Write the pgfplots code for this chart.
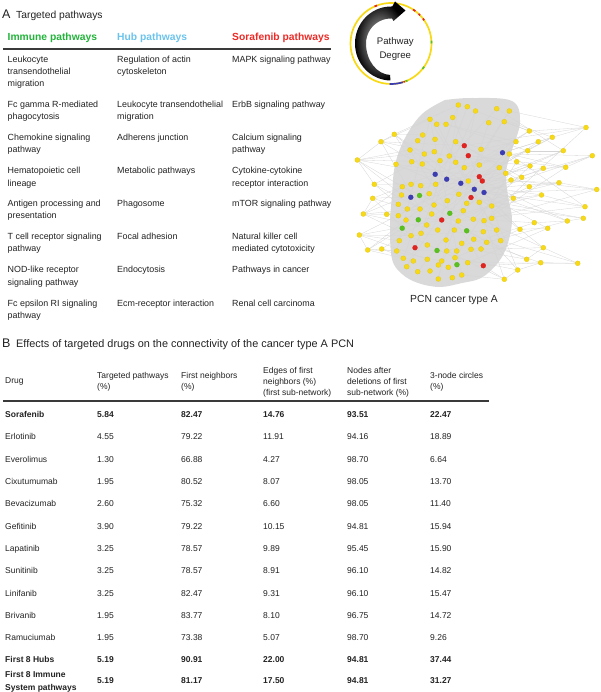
\documentclass[border=0pt]{standalone}
\usepackage{pgfplots}
\pgfplotsset{compat=1.18}
\usepackage{fontspec}
\setmainfont{Liberation Sans}

\definecolor{txt}{HTML}{222222}
\definecolor{immune}{HTML}{22B33A}
\definecolor{hub}{HTML}{6BC3EC}
\definecolor{sora}{HTML}{EC2A26}
\definecolor{nodeY}{HTML}{F7D916}
\definecolor{nodeR}{HTML}{E2231F}
\definecolor{nodeB}{HTML}{3C3CB4}
\definecolor{nodeG}{HTML}{58C11C}
\definecolor{core}{HTML}{D9D9D9}
\definecolor{rulec}{HTML}{3A3A3A}

% network nodes, in pixel coordinates of the figure
\pgfplotstableread{
x y
458.3 105
467.3 106.7
475.5 111
496.7 108.7
509.3 111
430 119.3
452.7 117.5
436.7 124.3
446 124.3
586 127.5
488.7 122.7
504.3 121.7
394.3 134.3
381 141.7
422.7 135
417.7 140.7
435 139.3
455.7 141.7
529.3 131
516 141.7
552.3 137.3
538.3 141.7
410 150
424.3 154
434.3 151.7
449.3 156
481 149.3
509.3 154
527.7 150.7
563.3 150.7
592.3 155.7
357.3 160
396 164.3
411.7 161.7
422.3 164
440 160.7
455.7 162.3
464.3 167.7
479.3 165
499.3 167.7
516.7 161.7
530 166
543.3 168.3
565.7 167.3
505.7 173.3
521.7 177.3
511 180
559 182.7
374.3 184.3
402.3 186.7
411 184.3
420.7 185.7
435.7 184.3
468.3 181
529.3 186.7
596.7 189.5
401.5 195
429.2 193.7
458.8 194.3
541.5 195
372.7 198.3
398.3 204.3
434 205
447.3 200.7
466.7 203.3
479.3 202.3
491.7 206
513.3 198.3
585 206.7
363.3 214
386.7 214.3
398.3 215.7
407.3 209
420 209
431.7 214
463.3 210.7
406 220
458.3 221
473.3 219.2
484 220.7
491.7 218.3
534.3 222.7
567.3 221
583.3 218.3
426.7 225
437.7 230
454.3 230
520 229.3
547.7 228.3
483.3 231.7
496.7 230
359.3 235
411 235.7
421 233.3
399.3 240.7
427.3 245
446 240
461.7 243.3
473.7 239.2
486.7 242.3
500.7 240.7
367.7 250
381.7 249
396.7 251
446.7 251
456.7 251
471 249.3
481 249
543.3 247.7
403.3 258.3
413.3 261
427.3 259.3
441.7 261
455 257.7
467.7 262.7
526.7 259.3
540.7 262.7
577.7 263.3
406.7 266.7
417.7 271.7
430 271
438.3 265
448.3 267.3
461.7 275
438.3 279
452.3 277.7
517.7 270
504.3 279.3
}\yellownodes

\pgfplotstableread{
x y
464.3 145.7
468.3 155.7
479.3 176.7
482.3 181
471 197.5
441.7 220
415 247.7
483.3 265.7
}\rednodes

\pgfplotstableread{
x y
502.5 152.7
435.2 174.3
446.7 179.2
460.8 183.3
474.3 189.3
484 192.5
410.8 197.3
}\bluenodes

\pgfplotstableread{
x y
419.5 195.5
449.8 213.3
418.3 219.8
402.2 228.2
466.7 230.8
437 250.5
456.9 264.7
}\greennodes

\pgfplotstableread{
x1 y1 x2 y2
357.3 160 435 174
357.3 160 420 209
357.3 160 410 150
357.3 160 402.3 186.7
357.3 160 434.3 151.7
357.3 160 455.7 162.3
357.3 160 381 141.7
357.3 160 374.3 184.3
381 141.7 430 119.3
381 141.7 435 174
381 141.7 464.3 145.7
381 141.7 420 209
381 141.7 394.3 134.3
381 141.7 449.3 156
394.3 134.3 458.3 105
394.3 134.3 446.7 179
394.3 134.3 474 189.3
394.3 134.3 422.7 135
394.3 134.3 411.7 161.7
374.3 184.3 441.7 220
374.3 184.3 460.7 183.3
374.3 184.3 434.3 151.7
374.3 184.3 398.3 204.3
372.7 198.3 458.3 194.3
372.7 198.3 411 235.7
372.7 198.3 435 174
372.7 198.3 363.3 214
372.7 198.3 407.3 209
363.3 214 420 209
363.3 214 446.7 179
363.3 214 455 257.7
363.3 214 402.3 186.7
363.3 214 386.7 214.3
363.3 214 437.7 230
359.3 235 441.7 220
359.3 235 411 235.7
359.3 235 460.7 183.3
359.3 235 427.3 259.3
359.3 235 399.3 240.7
359.3 235 367.7 250
367.7 250 446.7 251
367.7 250 420 209
367.7 250 402.3 228.3
367.7 250 403.3 258.3
367.7 250 381.7 249
381.7 249 474 189.3
381.7 249 441.7 261
381.7 249 413.3 261
386.7 214.3 441.7 220
386.7 214.3 420 209
586 127.5 509.3 111
586 127.5 484 220.7
586 127.5 464.3 145.7
586 127.5 552.3 137.3
586 127.5 529.3 131
529.3 131 446.7 179
529.3 131 475.5 111
529.3 131 479.3 165
529.3 131 504.3 121.7
552.3 137.3 479.3 176.7
552.3 137.3 460.7 183.3
552.3 137.3 502.7 152.7
552.3 137.3 538.3 141.7
552.3 137.3 509.3 121.7
538.3 141.7 458.3 194.3
538.3 141.7 435 174
516 141.7 446 124.3
516 141.7 441.7 220
516 141.7 481 149.3
563.3 150.7 482.3 181
563.3 150.7 474 189.3
563.3 150.7 496.7 108.7
563.3 150.7 527.7 150.7
592.3 155.7 509.3 154
592.3 155.7 484 192.7
592.3 155.7 458.3 194.3
592.3 155.7 565.7 167.3
527.7 150.7 464.3 167.7
527.7 150.7 430 119.3
565.7 167.3 468.3 155.7
565.7 167.3 484 220.7
565.7 167.3 455.7 141.7
565.7 167.3 543.3 168.3
543.3 168.3 471 197.5
543.3 168.3 446.7 179
530 166 449.3 156
530 166 473.3 219.2
530 166 505.7 173.3
559 182.7 474 189.3
559 182.7 479.3 202.3
559 182.7 446.7 179
559 182.7 529.3 186.7
596.7 189.5 484 192.7
596.7 189.5 479.3 176.7
596.7 189.5 491.7 218.3
596.7 189.5 559 182.7
541.5 195 460.7 183.3
541.5 195 441.7 220
541.5 195 513.3 198.3
529.3 186.7 458.3 221
529.3 186.7 464.3 145.7
513.3 198.3 441.7 220
513.3 198.3 435 174
585 206.7 484 192.7
585 206.7 458.3 221
585 206.7 509.3 154
585 206.7 541.5 195
583.3 218.3 491.7 206
583.3 218.3 471 197.5
583.3 218.3 567.3 221
567.3 221 482.3 181
567.3 221 486.7 242.3
567.3 221 460.7 183.3
567.3 221 534.3 222.7
534.3 222.7 473.3 219.2
534.3 222.7 446.7 251
547.7 228.3 474 189.3
547.7 228.3 467.7 262.7
547.7 228.3 520 229.3
520 229.3 484 192.7
520 229.3 455 257.7
543.3 247.7 481 249
543.3 247.7 460.7 183.3
543.3 247.7 526.7 259.3
526.7 259.3 471 249.3
526.7 259.3 441.7 220
540.7 262.7 483.3 265.7
540.7 262.7 474 240
540.7 262.7 517.7 270
577.7 263.3 484 220.7
577.7 263.3 500.7 240.7
577.7 263.3 467.7 262.7
577.7 263.3 540.7 262.7
517.7 270 455 257.7
517.7 270 483.3 231.7
517.7 270 504.3 279.3
504.3 279.3 461.7 275
504.3 279.3 446.7 251
504.3 279.3 474 189.3
504.3 279.3 483.3 265.7
521.7 177.3 464.3 145.7
511 180 441.7 220
516.7 161.7 455 257.7
499.3 167.7 420 209
486.7 242.3 402.3 186.7
500.7 240.7 430 119.3
491.7 206 396 164.3
496.7 230 411 235.7
458.3 105 441.7 220
467.3 106.7 415 247.7
496.7 108.7 435 174
509.3 111 458.3 194.3
430 119.3 461.7 275
410 150 483.3 265.7
396 164.3 479.3 176.7
398.3 215.7 502.7 152.7
406.7 266.7 475.5 111
437.7 279 488.7 122.7
402.3 186.7 496.7 230
417.7 271.7 509.3 154
430 119.3 396.7 251
458.3 105 403.3 258.3
475.5 111 438.3 279
509.3 111 406.7 266.7
436.7 124.3 500.7 240.7
452.7 117.5 517.7 270
}\edges

\tikzset{
  ta/.style={font=\fontsize{8.9}{10}\selectfont, text=txt, inner sep=0pt, anchor=base west},
  th/.style={font=\fontsize{10.3}{11}\selectfont\bfseries, inner sep=0pt, anchor=base west},
  tb/.style={font=\fontsize{8.5}{10}\selectfont, text=txt, inner sep=0pt, anchor=base west},
  tt/.style={font=\fontsize{10.3}{12}\selectfont, text=txt, inner sep=0pt, anchor=base west},
  tl/.style={font=\fontsize{12.5}{14}\selectfont, text=txt, inner sep=0pt, anchor=base west},
}
\newcommand{\A}[3]{\node[ta] at (axis cs:#1,#2) {#3};}
\newcommand{\Bt}[3]{\node[tb] at (axis cs:#1,#2) {#3};}
\newcommand{\brow}[7]{%
  \node[tb] at (axis cs:5,#1) {#2};
  \node[tb] at (axis cs:97,#1) {#3};
  \node[tb] at (axis cs:181,#1) {#4};
  \node[tb] at (axis cs:263,#1) {#5};
  \node[tb] at (axis cs:347,#1) {#6};
  \node[tb] at (axis cs:430,#1) {#7};}
\newcommand{\seg}[3]{\draw[#1, line width=1.7pt] (0,0) ++(#2:40.5pt) arc[start angle=#2, end angle=#3, radius=40.5pt];}

\begin{document}
\begin{tikzpicture}
\begin{axis}[
  x=1pt, y=1pt,
  xmin=0, xmax=600, ymin=0, ymax=692,
  y dir=reverse,
  hide axis, clip=false,
  ]
\path (axis cs:0,0) rectangle (axis cs:600,692);

% ---- panel A, left table
\node[tl] at (axis cs:2,18.5) {A};
\node[tt] at (axis cs:16,18.3) {Targeted pathways};
\node[th, text=immune] at (axis cs:7.5,40.5) {Immune pathways};
\node[th, text=hub] at (axis cs:117,40.5) {Hub pathways};
\node[th, text=sora] at (axis cs:232,40.5) {Sorafenib pathways};
\draw[rulec, line width=2pt] (axis cs:3,49) -- (axis cs:331,49);

\A{7.5}{62.3}{Leukocyte}
\A{7.5}{74.6}{transendothelial}
\A{7.5}{86.9}{migration}
\A{7.5}{107.6}{Fc gamma R-mediated}
\A{7.5}{119.9}{phagocytosis}
\A{7.5}{140.6}{Chemokine signaling}
\A{7.5}{152.9}{pathway}
\A{7.5}{174}{Hematopoietic cell}
\A{7.5}{186.3}{lineage}
\A{7.5}{206.7}{Antigen processing and}
\A{7.5}{219}{presentation}
\A{7.5}{239.2}{T cell receptor signaling}
\A{7.5}{251.5}{pathway}
\A{7.5}{272.7}{NOD-like receptor}
\A{7.5}{285}{signaling pathway}
\A{7.5}{306}{Fc epsilon RI signaling}
\A{7.5}{318.3}{pathway}

\A{117}{62.3}{Regulation of actin}
\A{117}{74.6}{cytoskeleton}
\A{117}{107.6}{Leukocyte transendothelial}
\A{117}{119.9}{migration}
\A{117}{140.6}{Adherens junction}
\A{117}{174}{Metabolic pathways}
\A{117}{206.7}{Phagosome}
\A{117}{239.2}{Focal adhesion}
\A{117}{272.7}{Endocytosis}
\A{117}{306}{Ecm-receptor interaction}

\A{232}{62.3}{MAPK signaling pathway}
\A{232}{107.6}{ErbB signaling pathway}
\A{232}{140.6}{Calcium signaling}
\A{232}{152.9}{pathway}
\A{232}{174}{Cytokine-cytokine}
\A{232}{186.3}{receptor interaction}
\A{232}{206.7}{mTOR signaling pathway}
\A{232}{239.2}{Natural killer cell}
\A{232}{251.5}{mediated cytotoxicity}
\A{232}{272.7}{Pathways in cancer}
\A{232}{306}{Renal cell carcinoma}

% ---- panel A, network
\addplot[fill=core, draw=none, smooth, tension=0.6] coordinates {
  (445,100) (472,98) (512,101) (520,122) (512,150) (506,172) (508,196)
  (512,220) (507,246) (497,264) (481,278) (462,283) (440,287) (418,283)
  (402,274) (392,259) (390,225) (392,195) (395,165) (405,138) (422,114)
  (445,100)
} -- cycle;
\addplot[black!17, line width=0.3pt, no markers,
  quiver={u=\thisrow{x2}-\thisrow{x1}, v=\thisrow{y2}-\thisrow{y1}}]
  table[x=x1, y=y1] {\edges};
\addplot[only marks, mark=*, mark size=2.5pt, mark options={fill=nodeY, draw=nodeY!90!black, line width=0.2pt}] table {\yellownodes};
\addplot[only marks, mark=*, mark size=2.5pt, mark options={fill=nodeR, draw=nodeR!90!black, line width=0.2pt}] table {\rednodes};
\addplot[only marks, mark=*, mark size=2.5pt, mark options={fill=nodeB, draw=nodeB!90!black, line width=0.2pt}] table {\bluenodes};
\addplot[only marks, mark=*, mark size=2.5pt, mark options={fill=nodeG, draw=nodeG!90!black, line width=0.2pt}] table {\greennodes};
\node[font=\fontsize{10.3}{12}\selectfont, text=txt, inner sep=0pt, anchor=base] at (axis cs:454,302.5) {PCN cancer type A};

\coordinate (C) at (axis cs:391,43.5);
\node[font=\fontsize{9.6}{11}\selectfont, text=txt, inner sep=0pt, anchor=base] at (axis cs:395.3,44.3) {Pathway};
\node[font=\fontsize{9.6}{11}\selectfont, text=txt, inner sep=0pt, anchor=base] at (axis cs:395.3,58.6) {Degree};

% ---- panel B, table
\node[tl] at (axis cs:2,347.5) {B};
\node[tt, font=\fontsize{10.9}{12}\selectfont] at (axis cs:16,347.5) {Effects of targeted drugs on the connectivity of the cancer type A PCN};
\Bt{5}{383.3}{Drug}
\Bt{97}{378.3}{Targeted pathways}
\Bt{97}{389.5}{(\%)}
\Bt{181}{378.3}{First neighbors}
\Bt{181}{389.5}{(\%)}
\Bt{263}{373.3}{Edges of first}
\Bt{263}{384.6}{neighbors (\%)}
\Bt{263}{395.9}{(first sub-network)}
\Bt{347}{373.3}{Nodes after}
\Bt{347}{384.6}{deletions of first}
\Bt{347}{395.9}{sub-network (\%)}
\Bt{430}{378.3}{3-node circles}
\Bt{430}{389.5}{(\%)}
\draw[rulec, line width=2pt] (axis cs:3,401) -- (axis cs:489,401);

\brow{417.3}{\bfseries Sorafenib}{\bfseries 5.84}{\bfseries 82.47}{\bfseries 14.76}{\bfseries 93.51}{\bfseries 22.47}
\brow{439.8}{Erlotinib}{4.55}{79.22}{11.91}{94.16}{18.89}
\brow{462.3}{Everolimus}{1.30}{66.88}{4.27}{98.70}{6.64}
\brow{484.5}{Cixutumumab}{1.95}{80.52}{8.07}{98.05}{13.70}
\brow{506.8}{Bevacizumab}{2.60}{75.32}{6.60}{98.05}{11.40}
\brow{529.3}{Gefitinib}{3.90}{79.22}{10.15}{94.81}{15.94}
\brow{551.5}{Lapatinib}{3.25}{78.57}{9.89}{95.45}{15.90}
\brow{573.5}{Sunitinib}{3.25}{78.57}{8.91}{96.10}{14.82}
\brow{596}{Linifanib}{3.25}{82.47}{9.31}{96.10}{15.47}
\brow{618}{Brivanib}{1.95}{83.77}{8.10}{96.75}{14.72}
\brow{640.3}{Ramuciumab}{1.95}{73.38}{5.07}{98.70}{9.26}
\brow{662.3}{\bfseries First 8 Hubs}{\bfseries 5.19}{\bfseries 90.91}{\bfseries 22.00}{\bfseries 94.81}{\bfseries 37.44}
\brow{683.5}{}{\bfseries 5.19}{\bfseries 81.17}{\bfseries 17.50}{\bfseries 94.81}{\bfseries 31.27}
\Bt{5}{677.3}{\bfseries First 8 Immune}
\Bt{5}{690}{\bfseries System pathways}
\end{axis}

% ---- pathway degree ring with arrow
\begin{scope}[shift={(C)}]
  \draw[nodeY, line width=1.7pt] (0,0) circle[radius=40.5pt];
  \seg{nodeR}{114}{110}
  \seg{nodeR}{57}{53}
  \seg{nodeR}{47}{44}
  \seg{nodeR}{38}{35}
  \seg{nodeG}{4}{0}
  \seg{nodeG}{-35}{-39}
  \seg{nodeG}{-66}{-69}
  \seg{nodeR}{-70}{-72}
  \seg{nodeB}{-73}{-92}
  \shade[inner color=gray!45, outer color=black]
    (1.3pt,37pt) -- (4pt,42pt) -- (14.5pt,33pt) -- (2.5pt,22.5pt) -- (1pt,25pt)
    arc[start angle=87.7, end angle=180, radius=25pt]
    arc[start angle=180, end angle=268, x radius=25pt, y radius=31.5pt]
    -- (-0.63pt,-37pt)
    arc[start angle=269, end angle=92, x radius=36pt, y radius=37pt]
    -- cycle;
\end{scope}
\end{tikzpicture}
\end{document}
